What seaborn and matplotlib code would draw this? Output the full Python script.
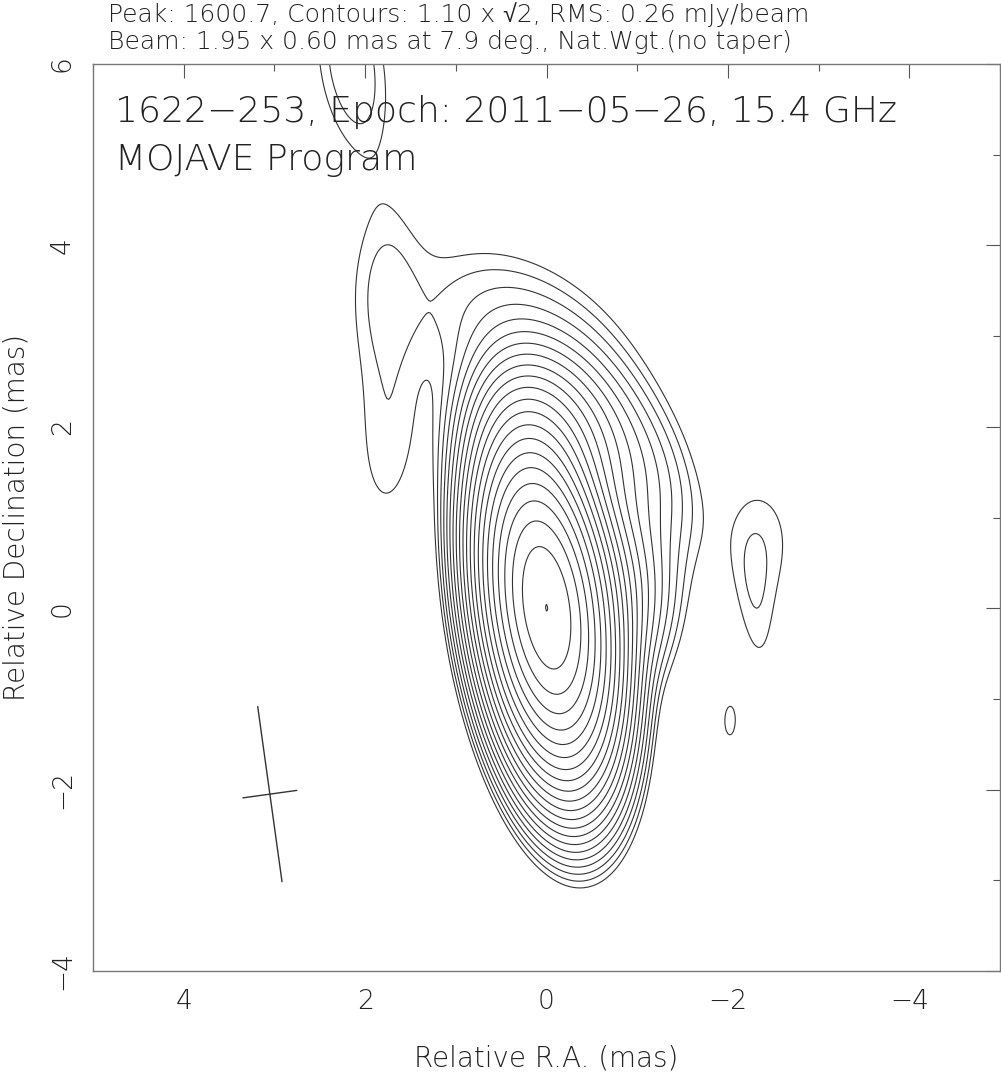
import numpy as np
import matplotlib
matplotlib.use("Agg")
import matplotlib.pyplot as plt
import seaborn as sns

# header values of the map
peak_flux = 1600.7
base_contour = 1.10
rms = 0.26
beam_major = 1.95
beam_minor = 0.60
beam_pa = 7.9
beam_center = (3.05, -2.05)

# emission components
# RA offset (mas), Dec offset (mas), peak (mJy/beam), FWHM major/minor (mas), PA (deg)
comp_ra = [0.0, -0.45, 0.0, 0.35, -0.75, -1.15, 1.74, 1.82, -2.4, -2.32, -2.02, 2.15]
comp_dec = [0.0, 0.3, 1.8, 3.1, 1.7, 1.6, 1.8, 3.55, 0.75, -0.15, -1.25, 6.0]
comp_peak = [1583, 25, 35, 2.4, 5.0, 0.6, 1.3, 1.3, 1.25, 0.95, 1.2, 2.15]
comp_major = [1.92, 1.41, 1.3, 2.0, 1.6, 1.9, 2.0, 2.0, 1.5, 1.6, 0.77, 1.8]
comp_minor = [0.71, 0.99, 0.94, 1.3, 0.9, 0.9, 0.71, 0.71, 0.8, 0.4, 0.28, 0.7]
comp_pa = [7.9, 10, 15, 60, 30, 20, -3, -3, 0, 5, 0, 8]

header1 = "Peak: 1600.7, Contours: 1.10 x \u221a2, RMS: 0.26 mJy/beam"
header2 = "Beam: 1.95 x 0.60 mas at 7.9 deg., Nat.Wgt.(no taper)"
source_label = "1622\u2212253, Epoch: 2011\u221205\u221226, 15.4 GHz"
program_label = "MOJAVE Program"

xticks = [4, 2, 0, -2, -4]
yticks = [-4, -2, 0, 2, 4, 6]


def gauss2d(x, y, x0, y0, amp, fmaj, fmin, pa):
    fw = 2.0 * np.sqrt(2.0 * np.log(2.0))
    sa, sb = fmaj / fw, fmin / fw
    t = np.deg2rad(pa)
    dx, dy = x - x0, y - y0
    u = dx * np.sin(t) + dy * np.cos(t)
    v = dx * np.cos(t) - dy * np.sin(t)
    return amp * np.exp(-0.5 * (u ** 2 / sa ** 2 + v ** 2 / sb ** 2))


# build the map
ra = np.linspace(-5.5, 5.5, 551)
dec = np.linspace(-4.5, 7.5, 601)
RA, DEC = np.meshgrid(ra, dec)
img = np.zeros_like(RA)
for i in range(len(comp_ra)):
    img += gauss2d(RA, DEC, comp_ra[i], comp_dec[i], comp_peak[i],
                   comp_major[i], comp_minor[i], comp_pa[i])

levels = base_contour * np.sqrt(2.0) ** np.arange(22)
levels = levels[levels < img.max()]

sns.set_style("white")
families = ["DejaVu Sans", "Liberation Sans"]
plt.rcParams["font.family"] = families
fw = 200
txt_color = "#222222"
line_color = "#333333"

fig = plt.figure(figsize=(10.01, 10.79), dpi=100)
ax = fig.add_axes([93 / 1001, 108 / 1079, 907 / 1001, 907 / 1079])

ax.contour(RA, DEC, img, levels=levels, colors=line_color, linewidths=0.8)

# beam cross
t = np.deg2rad(beam_pa)
bx, by = beam_center
hM, hm = beam_major / 2, beam_minor / 2
ax.plot([bx + hM * np.sin(t), bx - hM * np.sin(t)],
        [by + hM * np.cos(t), by - hM * np.cos(t)], color=line_color, lw=1.0)
ax.plot([bx + hm * np.cos(t), bx - hm * np.cos(t)],
        [by - hm * np.sin(t), by + hm * np.sin(t)], color=line_color, lw=1.0)

ax.set_xlim(5, -5)
ax.set_ylim(-4, 6)
ax.set_xticks(xticks)
ax.set_yticks(yticks)
ax.set_xticks(np.arange(-5, 6, 1), minor=True)
ax.set_yticks(np.arange(-4, 7, 1), minor=True)
ax.set_xticklabels([f"{v}".replace("-", "\u2212") for v in xticks], fontweight=fw)
ax.set_yticklabels([f"{v}".replace("-", "\u2212") for v in yticks],
                   rotation=90, va="center", fontweight=fw)
ax.tick_params(which="both", direction="in", top=True, right=True,
               color="#555555", width=0.8, labelsize=19, labelcolor=txt_color)
ax.tick_params(which="major", length=10, pad=13)
ax.tick_params(which="minor", length=5)
for s in ax.spines.values():
    s.set_color("#777777")
    s.set_linewidth(1.0)

ax.set_xlabel("Relative R.A. (mas)", fontsize=20, color=txt_color,
              labelpad=22, fontweight=fw)
ax.set_ylabel("Relative Declination (mas)", fontsize=20, color=txt_color,
              labelpad=14, fontweight=fw)

fig.text(108 / 1001, 1 - 15 / 1079, header1, fontsize=18, color=txt_color,
         va="center", fontweight=fw, family=families)
fig.text(108 / 1001, 1 - 42 / 1079, header2, fontsize=18, color=txt_color,
         va="center", fontweight=fw)
ax.text(0.024, 0.947, source_label, transform=ax.transAxes, fontsize=26,
        color=txt_color, va="center", fontweight=fw)
ax.text(0.024, 0.894, program_label, transform=ax.transAxes, fontsize=26,
        color=txt_color, va="center", fontweight=fw)

fig.savefig("out.png", dpi=100)
